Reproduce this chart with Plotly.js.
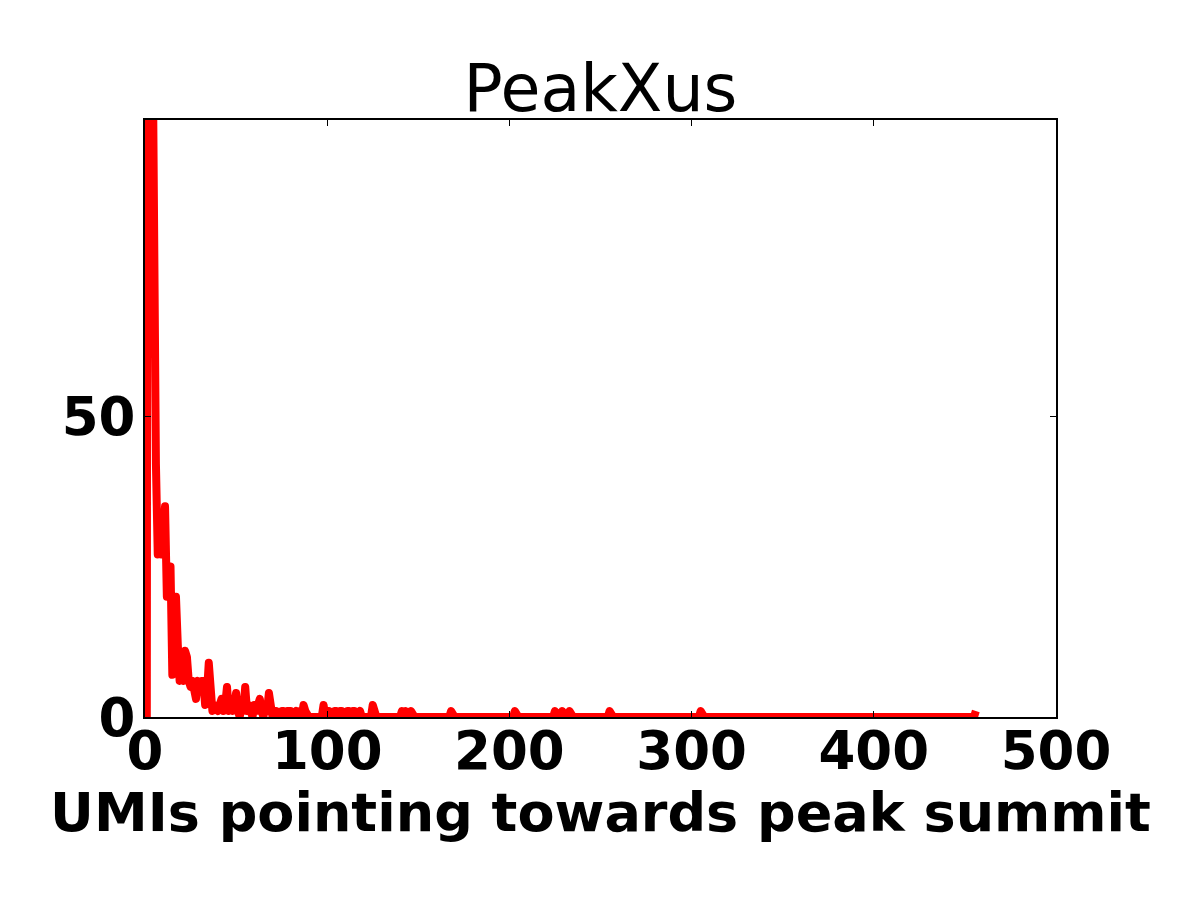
<!DOCTYPE html>
<html>
<head>
<meta charset="utf-8">
<script src="https://cdn.plot.ly/plotly-3.0.1.min.js"></script>
<style>
body{margin:0;background:#fff}
#chart{width:1200px;height:900px}
.js-line{stroke-linejoin:round !important}
</style>
</head>
<body>
<div id="chart"></div>
<script>
// histogram bins that are not empty (UMIs -> number of peaks)
let umiBins=[2,3,4,5,6,7,8,9,10,11,12,13,14,15,16,17,18,19,20,21,22,23,24,25,26,27,28,29,30,
31,32,33,34,35,36,37,38,39,40,41,42,43,44,45,46,47,48,49,50,51,53,54,55,56,57,58,60,61,62,63,64,
66,67,68,69,71,72,74,75,76,78,79,80,82,83,85,87,88,98,100,101,103,104,105,107,108,110,111,112,
114,115,117,118,125,141,143,146,168,203,225,229,233,255,305,456]

let peakCounts=[400,160,105,65,42,27,28,27,34,35,20,25,25,7,20,20,12,6,7,6,11,10,6,5,6,5,3,6,5,
6,6,2,4,9,2,1,2,1,1,2,3,1,2,5,1,2,1,2,4,1,2,1,5,1,2,1,2,1,2,3,1,
2,1,4,1,1,1,1,1,1,1,1,1,1,1,1,2,1,2,1,1,1,1,1,1,1,1,1,1,
1,1,1,1,2,1,1,1,1,1,1,1,1,1,1,1]

let firstBin=1
let lastBin=456

let xTicks=[0,100,200,300,400,500]
let yTicks=[0,50]

function buildSeries(){

let map={}

umiBins.forEach((b,i)=>{ map[b]=peakCounts[i] })

let xs=[],ys=[]

for(let b=firstBin;b<=lastBin;b++){
xs.push(b)
ys.push(map[b]||0)
}

return {xs,ys}

}

let s=buildSeries()

let tickFont={family:"DejaVu Sans",size:53,color:"#000",weight:"bold"}

let layout={
width:1200,height:900,
paper_bgcolor:"#fff",plot_bgcolor:"#fff",
margin:{l:145,r:144,t:120,b:183},
showlegend:false,
title:{
text:"PeakXus",
font:{family:"DejaVu Sans",size:65,color:"#000"},
x:0.5,xref:"paper",
y:1-88/900,yref:"container",yanchor:"middle"
},
xaxis:{
range:[0,500],
tickvals:xTicks,
ticktext:xTicks.map(String),
ticks:"inside",ticklen:6,tickwidth:1,tickcolor:"#000",
showline:true,linecolor:"#000",linewidth:2,mirror:"ticks",
showgrid:false,zeroline:false,
tickfont:tickFont,
ticklabelstandoff:-14,
title:{text:"UMIs pointing towards peak summit",
font:{family:"DejaVu Sans",size:54,color:"#000",weight:"bold"},standoff:4}
},
yaxis:{
range:[0,99.2],
tickvals:yTicks,
ticktext:yTicks.map(String),
ticks:"inside",ticklen:6,tickwidth:1,tickcolor:"#000",
showline:true,linecolor:"#000",linewidth:2,mirror:"ticks",
showgrid:false,zeroline:false,
tickfont:tickFont,
ticklabelstandoff:-3
}
}

Plotly.newPlot("chart",[{
x:s.xs,
y:s.ys,
type:"scatter",
mode:"lines",
line:{color:"#ff0000",width:8},
hoverinfo:"skip"
}],layout,{staticPlot:true})
</script>
</body>
</html>
